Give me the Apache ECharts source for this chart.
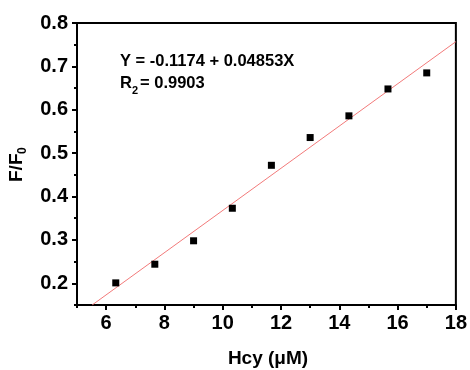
<!DOCTYPE html>
<html>
<head>
<meta charset="utf-8">
<script src="https://cdn.jsdelivr.net/npm/echarts@6/dist/echarts.min.js"></script>
<style>
  html, body { margin: 0; padding: 0; background: #fff; }
  #chart { width: 470px; height: 370px; }
</style>
</head>
<body>
<div id="chart"></div>
<script>
// measured points, Hcy (uM) vs F/F0
const hcy = [6.33, 7.67, 9.0, 10.33, 11.67, 13.0, 14.33, 15.67, 17.0];
const ratio = [0.201, 0.244, 0.298, 0.373, 0.472, 0.536, 0.586, 0.648, 0.685];

// linear fit drawn across the plot (end points)
const fitX = [5.52, 18];
const fitY = [0.15, 0.757];

// tick values
const xMajor = [6, 8, 10, 12, 14, 16, 18];
const xMinor = [5, 7, 9, 11, 13, 15, 17];
const yMajor = [0.2, 0.3, 0.4, 0.5, 0.6, 0.7, 0.8];
const yMinor = [0.15, 0.25, 0.35, 0.45, 0.55, 0.65, 0.75];

const font = "'Liberation Sans', Arial, sans-serif";

const chart = echarts.init(document.getElementById('chart'));

const axisBase = {
  type: 'value',
  splitLine: { show: false },
  axisLine: { onZero: false, lineStyle: { color: '#000', width: 2 } }
};

const option = {
  animation: false,
  grid: {
    left: 77, right: 12, top: 23, bottom: 65,
    show: true, borderColor: '#000', borderWidth: 2
  },
  xAxis: [
    Object.assign({}, axisBase, {
      min: 5, max: 18, position: 'bottom',
      axisTick: { customValues: xMajor, length: 5, lineStyle: { color: '#000', width: 2 } },
      axisLabel: {
        customValues: xMajor, margin: 8, color: '#000',
        fontFamily: font, fontWeight: 'bold', fontSize: 20
      }
    }),
    Object.assign({}, axisBase, {
      min: 5, max: 18, position: 'bottom',
      axisLine: { show: false, onZero: false },
      axisLabel: { show: false },
      axisTick: { customValues: xMinor, length: 3, lineStyle: { color: '#000', width: 2 } }
    })
  ],
  yAxis: [
    Object.assign({}, axisBase, {
      min: 0.15, max: 0.8, position: 'left',
      axisTick: { customValues: yMajor, length: 5, lineStyle: { color: '#000', width: 2 } },
      axisLabel: {
        customValues: yMajor, margin: 9, color: '#000',
        fontFamily: font, fontWeight: 'bold', fontSize: 20,
        formatter: v => v.toFixed(1)
      }
    }),
    Object.assign({}, axisBase, {
      min: 0.15, max: 0.8, position: 'left',
      axisLine: { show: false, onZero: false },
      axisLabel: { show: false },
      axisTick: { customValues: yMinor, length: 3, lineStyle: { color: '#000', width: 2 } }
    })
  ],
  series: [
    {
      type: 'line',
      data: fitX.map((x, i) => [x, fitY[i]]),
      symbol: 'none',
      lineStyle: { color: '#f27a7a', width: 1 },
      clip: true,
      z: 2
    },
    {
      type: 'scatter',
      data: hcy.map((x, i) => [x, ratio[i]]),
      symbol: 'rect',
      symbolSize: 7,
      itemStyle: { color: '#000', opacity: 1 },
      z: 3
    }
  ],
  graphic: [
    {
      type: 'text', left: 120, top: 53,
      style: { text: 'Y = -0.1174 + 0.04853X', fill: '#000', font: 'bold 16.5px ' + font }
    },
    {
      type: 'text', left: 120, top: 75,
      style: { text: 'R', fill: '#000', font: 'bold 16.5px ' + font }
    },
    {
      type: 'text', left: 132, top: 85,
      style: { text: '2', fill: '#000', font: 'bold 11px ' + font }
    },
    {
      type: 'text', left: 140, top: 75,
      style: { text: '= 0.9903', fill: '#000', font: 'bold 16.5px ' + font }
    },
    {
      type: 'text', x: 268, y: 359,
      style: {
        text: 'Hcy (\u03bcM)', fill: '#000', font: 'bold 19px ' + font,
        align: 'center', verticalAlign: 'middle'
      }
    },
    {
      type: 'group', x: 17, y: 182, rotation: Math.PI / 2,
      children: [
        {
          type: 'text', x: 0, y: 0,
          style: { text: 'F/F', fill: '#000', font: 'bold 19px ' + font, align: 'left', verticalAlign: 'middle' }
        },
        {
          type: 'text', x: 28, y: 6,
          style: { text: '0', fill: '#000', font: 'bold 12px ' + font, align: 'left', verticalAlign: 'middle' }
        }
      ]
    }
  ]
};

chart.setOption(option);
</script>
</body>
</html>
